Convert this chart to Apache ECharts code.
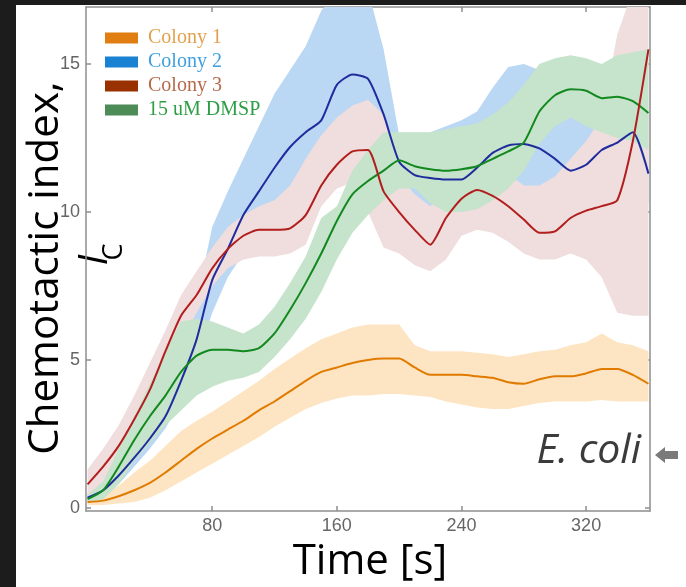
<!DOCTYPE html>
<html>
<head>
<meta charset="utf-8">
<script src="https://cdn.jsdelivr.net/npm/echarts@6/dist/echarts.min.js"></script>
<style>
  html, body { margin: 0; padding: 0; background: #1c1c1c; }
  #paper { position: absolute; left: 16px; top: 5px; width: 670px; height: 582px; background: #fff; }
  #chart { position: absolute; left: 0; top: 0; width: 686px; height: 587px; }
</style>
</head>
<body>
<div id="paper"></div>
<div id="chart"></div>
<script>
// time axis (s), shared by every curve
var T = [0, 10, 20, 30, 40, 50, 60, 70, 80, 90, 100, 110, 120, 130, 140, 150, 160, 170, 180,
  190, 200, 210, 220, 230, 240, 250, 260, 270, 280, 290, 300, 310, 320, 330, 340, 350, 360];

// Colony 1
var col1Mean = [0.2, 0.25, 0.4, 0.6, 0.85, 1.2, 1.6, 2.0, 2.35, 2.65, 2.95, 3.3, 3.6, 3.95, 4.3, 4.6, 4.75, 4.9, 5.0,
  5.05, 5.05, 4.75, 4.5, 4.5, 4.5, 4.45, 4.4, 4.25, 4.2, 4.35, 4.45, 4.45, 4.55, 4.7, 4.7, 4.5, 4.2];
var col1Hi = [0.3, 0.45, 0.75, 1.2, 1.6, 2.1, 2.6, 2.95, 3.25, 3.6, 3.95, 4.3, 4.7, 5.05, 5.4, 5.7, 5.9, 6.1, 6.2,
  6.2, 6.2, 5.5, 5.3, 5.3, 5.3, 5.25, 5.2, 5.1, 5.2, 5.3, 5.35, 5.5, 5.6, 5.9, 5.6, 5.5, 5.3];
var col1Lo = [0.1, 0.1, 0.15, 0.2, 0.35, 0.6, 0.9, 1.2, 1.5, 1.8, 2.1, 2.4, 2.75, 3.05, 3.35, 3.55, 3.7, 3.8, 3.8,
  3.85, 3.85, 3.8, 3.75, 3.6, 3.5, 3.4, 3.35, 3.35, 3.45, 3.55, 3.6, 3.6, 3.6, 3.65, 3.6, 3.6, 3.6];

// Colony 2
var col2Mean = [0.35, 0.6, 1.1, 1.7, 2.35, 3.1, 4.3, 5.7, 7.7, 8.75, 9.9, 10.7, 11.5, 12.2, 12.7, 13.1, 14.3, 14.65, 14.5,
  13.3, 11.7, 11.25, 11.15, 11.1, 11.1, 11.5, 12.0, 12.25, 12.3, 12.15, 11.8, 11.4, 11.6, 12.1, 12.35, 12.7, 11.3];
var col2Hi = [0.5, 0.8, 1.3, 1.9, 2.6, 3.5, 5.0, 7.0, 9.5, 10.7, 11.8, 12.9, 14.0, 14.8, 15.6, 16.8, 17.5, 17.5, 17.5,
  15.5, 12.6, 12.5, 12.7, 12.9, 13.1, 13.4, 14.2, 14.9, 15.0, 14.8, 14.5, 14.2, 14.0, 14.0, 14.0, 14.0, 13.5];
var col2Lo = [0.2, 0.35, 0.8, 1.4, 2.0, 2.7, 3.6, 5.0, 6.6, 7.8, 8.6, 9.2, 9.8, 10.3, 10.9, 11.6, 12.3, 12.8, 13.4,
  13.1, 11.0, 10.0, 9.6, 9.4, 9.3, 9.4, 9.8, 10.0, 10.0, 10.0, 10.3, 11.2, 11.0, 10.8, 10.8, 10.8, 10.3];

// Colony 3
var col3Mean = [0.8, 1.4, 2.1, 3.0, 4.0, 5.3, 6.5, 7.2, 8.1, 8.75, 9.2, 9.4, 9.4, 9.45, 9.9, 10.9, 11.6, 12.05, 12.1,
  10.7, 10.0, 9.4, 8.9, 9.8, 10.45, 10.75, 10.55, 10.2, 9.75, 9.3, 9.35, 9.8, 10.05, 10.2, 10.4, 12.4, 15.5];
var col3Hi = [1.3, 2.0, 2.8, 3.8, 4.9, 6.0, 7.2, 8.0, 8.8, 9.5, 9.9, 10.2, 10.4, 10.9, 11.8, 12.6, 13.2, 13.6, 13.8,
  13.3, 11.2, 10.6, 10.2, 10.8, 11.6, 11.8, 11.6, 11.3, 10.9, 10.9, 11.2, 11.8, 12.4, 13.2, 16.0, 17.5, 17.5];
var col3Lo = [0.4, 0.9, 1.5, 2.3, 3.2, 4.3, 5.6, 6.6, 7.5, 8.1, 8.4, 8.5, 8.5, 8.6, 8.9, 10.2, 10.8, 11.0, 10.0,
  8.8, 8.6, 8.2, 8.0, 8.4, 9.2, 9.4, 9.3, 9.0, 8.6, 8.4, 8.4, 8.6, 8.4, 7.8, 6.6, 6.5, 6.5];

// 15 uM DMSP
var dmspMean = [0.3, 0.6, 1.4, 2.3, 3.1, 3.8, 4.6, 5.15, 5.35, 5.35, 5.3, 5.4, 5.9, 6.7, 7.6, 8.6, 9.7, 10.6, 11.05,
  11.4, 11.75, 11.55, 11.45, 11.4, 11.45, 11.55, 11.8, 12.05, 12.35, 13.4, 13.95, 14.15, 14.1, 13.85, 13.9, 13.75, 13.35];
var dmspHi = [0.45, 0.9, 2.0, 3.1, 4.2, 5.3, 6.3, 6.4, 6.3, 6.1, 5.9, 6.2, 6.8, 7.6, 8.5, 9.8, 10.2, 11.4, 12.1,
  12.7, 12.7, 12.7, 12.7, 12.8, 12.9, 13.0, 13.3, 13.7, 14.3, 15.0, 15.2, 15.3, 15.2, 15.0, 15.3, 15.4, 15.5];
var dmspLo = [0.15, 0.3, 0.8, 1.6, 2.2, 2.8, 3.3, 3.8, 4.1, 4.3, 4.4, 4.6, 5.1, 5.7, 6.4, 7.3, 8.4, 9.3, 9.9,
  10.4, 10.8, 10.8, 10.3, 10.0, 10.0, 10.1, 10.4, 10.8, 11.4, 12.3, 12.9, 13.2, 12.9, 12.7, 12.5, 12.4, 12.1];

var xTicks = [80, 160, 240, 320];
var yTicks = [0, 5, 10, 15];
var names = ['Colony 1', 'Colony 2', 'Colony 3', '15 uM DMSP'];

var chart = echarts.init(document.getElementById('chart'), null, { renderer: 'canvas' });

function pairs(ys) {
  return T.map(function (t, i) { return [t, ys[i]]; });
}

// shaded spread drawn as one polygon through the axis scales
function band(name, lo, hi, fill, z) {
  return {
    type: 'custom',
    name: name + ' spread',
    z: z,
    clip: true,
    silent: true,
    encode: { x: 0, y: [1, 2] },
    data: T.map(function (t, i) { return [t, lo[i], hi[i]]; }),
    renderItem: function (params, api) {
      if (params.dataIndex !== 0) return null;
      var pts = [];
      for (var i = 0; i < T.length; i++) pts.push(api.coord([T[i], hi[i]]));
      for (var j = T.length - 1; j >= 0; j--) pts.push(api.coord([T[j], lo[j]]));
      return { type: 'polygon', shape: { points: pts }, style: { fill: fill } };
    }
  };
}

function line(name, ys, color, z) {
  return {
    type: 'line',
    name: name,
    z: z,
    data: pairs(ys),
    showSymbol: false,
    smooth: 0.2,
    clip: true,
    lineStyle: { color: color, width: 2 },
    itemStyle: { color: color }
  };
}

var frame = { color: '#8e8e8e', width: 1.5 };
var tickFont = { color: '#666', fontSize: 18, fontFamily: 'Liberation Sans' };

chart.setOption({
  animation: false,
  grid: { left: 86, right: 36, top: 7, bottom: 76 },
  xAxis: [
    {
      type: 'value', min: -1, max: 361, position: 'bottom',
      axisLine: { show: true, onZero: false, lineStyle: frame },
      axisTick: { show: true, inside: true, length: 5, customValues: xTicks, lineStyle: frame },
      axisLabel: Object.assign({ customValues: xTicks, margin: 6 }, tickFont),
      splitLine: { show: false }
    },
    {
      type: 'value', min: -1, max: 361, position: 'top',
      axisLine: { show: true, onZero: false, lineStyle: frame },
      axisTick: { show: true, inside: true, length: 5, customValues: xTicks, lineStyle: frame },
      axisLabel: { show: false },
      splitLine: { show: false }
    }
  ],
  yAxis: [
    {
      type: 'value', min: -0.1, max: 16.93, position: 'left',
      axisLine: { show: true, onZero: false, lineStyle: frame },
      axisTick: { show: true, inside: true, length: 5, customValues: yTicks, lineStyle: frame },
      axisLabel: Object.assign({ customValues: yTicks, margin: 6 }, tickFont),
      splitLine: { show: false }
    },
    {
      type: 'value', min: -0.1, max: 16.93, position: 'right',
      axisLine: { show: true, onZero: false, lineStyle: frame },
      axisTick: { show: true, inside: true, length: 5, customValues: yTicks, lineStyle: frame },
      axisLabel: { show: false },
      splitLine: { show: false }
    }
  ],
  legend: {
    orient: 'vertical',
    left: 100,
    top: 23,
    itemWidth: 33,
    itemHeight: 11,
    itemGap: 4,
    icon: 'rect',
    selectedMode: false,
    textStyle: { fontFamily: 'Liberation Serif', fontSize: 20, lineHeight: 18, padding: [0, 0, 0, 5] },
    data: [
      { name: names[0], itemStyle: { color: '#e07e12' }, textStyle: { color: '#e3a04a' } },
      { name: names[1], itemStyle: { color: '#1a82d2' }, textStyle: { color: '#3d9fe0' } },
      { name: names[2], itemStyle: { color: '#993200' }, textStyle: { color: '#b5694a' } },
      { name: names[3], itemStyle: { color: '#4d8b57' }, textStyle: { color: '#2e9e45' } }
    ]
  },
  graphic: [
    {
      type: 'text', x: 46, y: 268, rotation: Math.PI / 2,
      style: { text: 'Chemotactic index,', font: '42px "Open Sans"', fill: '#000', textAlign: 'center', textVerticalAlign: 'middle' }
    },
    {
      type: 'text', x: 96, y: 260, rotation: Math.PI / 2,
      style: { text: 'I', font: 'italic 40px "Open Sans"', fill: '#000', textAlign: 'center', textVerticalAlign: 'middle' }
    },
    {
      type: 'text', x: 114, y: 252, rotation: Math.PI / 2,
      style: { text: 'C', font: '27px "Open Sans"', fill: '#000', textAlign: 'center', textVerticalAlign: 'middle' }
    },
    {
      type: 'text', x: 370, y: 562,
      style: { text: 'Time [s]', font: '42px "Open Sans"', fill: '#000', textAlign: 'center', textVerticalAlign: 'middle' }
    },
    {
      type: 'text', x: 641, y: 451,
      style: { text: 'E. coli', font: 'italic 41px "Open Sans"', fill: '#3b3b3b', textAlign: 'right', textVerticalAlign: 'middle' }
    },
    {
      type: 'polygon',
      shape: { points: [[655, 455], [665, 447], [665, 451], [678, 451], [678, 459], [665, 459], [665, 463]] },
      style: { fill: '#7a7a7a' }
    }
  ],
  series: [
    band(names[0], col1Lo, col1Hi, '#fde5c3', 1),
    band(names[1], col2Lo, col2Hi, '#bad7f3', 2),
    band(names[2], col3Lo, col3Hi, '#f0dddd', 3),
    band(names[3], dmspLo, dmspHi, '#c6e3cb', 4),
    line(names[0], col1Mean, '#e07a00', 10),
    line(names[1], col2Mean, '#1f2c9e', 11),
    line(names[3], dmspMean, '#12891f', 12),
    line(names[2], col3Mean, '#b21d1d', 13)
  ]
});
</script>
</body>
</html>
